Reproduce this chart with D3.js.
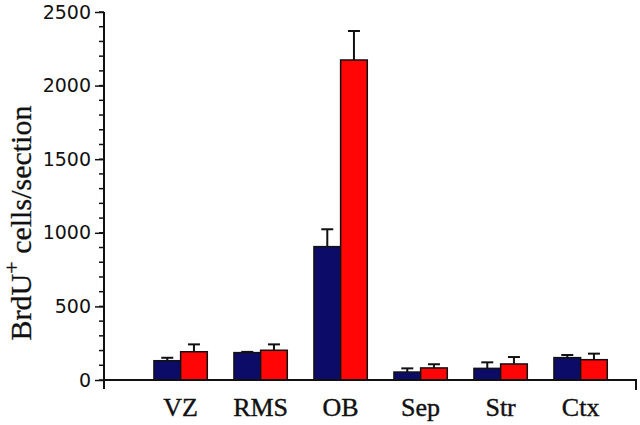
<!DOCTYPE html>
<html>
<head>
<meta charset="utf-8">
<script src="https://cdn.jsdelivr.net/npm/d3@7"></script>
<style>
  html, body { margin: 0; padding: 0; background: #fff; }
</style>
</head>
<body>
<div id="chart"></div>
<script>
// data
const regions = ["VZ", "RMS", "OB", "Sep", "Str", "Ctx"];
const blueMeans = [131, 186, 906, 54, 79, 152];
const blueErrors = [20, 5, 118, 25, 41, 18];
const redMeans = [192, 202, 2174, 82, 109, 138];
const redErrors = [50, 40, 197, 25, 47, 41];
const yTicks = [0, 500, 1000, 1500, 2000, 2500];
const yMinorTicks = d3.range(0, 2501, 100);

const width = 640, height = 425;
const margin = { top: 12, right: 4, bottom: 45, left: 104 };

const svg = d3.select("#chart")
  .append("svg")
  .attr("width", width)
  .attr("height", height)
  .attr("xmlns", "http://www.w3.org/2000/svg");

// scales
const y = d3.scaleLinear()
  .domain([0, 2500])
  .range([height - margin.bottom, margin.top]);

const x = d3.scaleBand()
  .domain(regions)
  .range([margin.left, width - margin.right])
  .paddingInner(1 / 3)
  .paddingOuter(0.4917)
  .align(0.635);

const x1 = d3.scaleBand()
  .domain(["blue", "red"])
  .range([0, x.bandwidth()]);

const colors = { blue: "#0c0c68", red: "#ff0505" };

// rows for bars
const rows = [];
regions.forEach((r, i) => {
  rows.push({ region: r, key: "blue", value: blueMeans[i], err: blueErrors[i] });
  rows.push({ region: r, key: "red", value: redMeans[i], err: redErrors[i] });
});

// error bars (upper only), drawn before bars
const eb = svg.append("g")
  .attr("stroke", "#111")
  .attr("stroke-width", 2);

rows.forEach(d => {
  const cx = x(d.region) + x1(d.key) + x1.bandwidth() / 2;
  eb.append("line")
    .attr("x1", cx).attr("x2", cx)
    .attr("y1", y(d.value)).attr("y2", y(d.value + d.err));
  eb.append("line")
    .attr("x1", cx - 6).attr("x2", cx + 6)
    .attr("y1", y(d.value + d.err)).attr("y2", y(d.value + d.err));
});

// bars
svg.append("g")
  .selectAll("rect")
  .data(rows)
  .join("rect")
  .attr("x", d => x(d.region) + x1(d.key))
  .attr("y", d => y(d.value))
  .attr("width", x1.bandwidth())
  .attr("height", d => y(0) - y(d.value))
  .attr("fill", d => colors[d.key])
  .attr("stroke", "#111")
  .attr("stroke-width", 1.5);

// y axis
const yAxis = svg.append("g")
  .attr("transform", `translate(${margin.left},0)`);

yAxis.selectAll(".minor")
  .data(yMinorTicks)
  .join("line")
  .attr("class", "minor")
  .attr("x1", -5).attr("x2", 0)
  .attr("y1", d => y(d)).attr("y2", d => y(d))
  .attr("stroke", "#111")
  .attr("stroke-width", 1.5);

yAxis.call(d3.axisLeft(y).tickValues(yTicks).tickFormat(d3.format("d"))
    .tickSize(9).tickPadding(4).tickSizeOuter(0))
  .call(g => g.select(".domain").remove())
  .call(g => g.selectAll(".tick line").attr("stroke", "#111").attr("stroke-width", 1.5))
  .call(g => g.selectAll(".tick text")
    .attr("fill", "#111")
    .attr("font-family", "DejaVu Sans, Verdana, sans-serif")
    .attr("font-size", 19));

// axis lines
const axisLines = svg.append("g")
  .attr("stroke", "#111")
  .attr("stroke-width", 2)
  .attr("fill", "none");

axisLines.append("path")
  .attr("d", d3.line()([
    [margin.left, y(2500)],
    [margin.left, y(0) + 9]
  ]));

axisLines.append("path")
  .attr("d", d3.line()([
    [margin.left, y(0)],
    [width - margin.right, y(0)],
    [width - margin.right, y(0) + 10]
  ]));

// x labels
svg.append("g")
  .selectAll("text")
  .data(regions)
  .join("text")
  .attr("x", d => x(d) + x.bandwidth() / 2)
  .attr("y", y(0) + 36)
  .attr("text-anchor", "middle")
  .attr("font-family", "Liberation Serif, Times New Roman, serif")
  .attr("font-size", 26)
  .attr("stroke", "#111")
  .attr("stroke-width", 0.4)
  .attr("fill", "#111")
  .text(d => d);

// y title
const title = svg.append("text")
  .attr("transform", `translate(31,${(105 + 341) / 2}) rotate(-90)`)
  .attr("text-anchor", "middle")
  .attr("font-family", "Liberation Serif, Times New Roman, serif")
  .attr("font-size", 30)
  .attr("stroke", "#111")
  .attr("stroke-width", 0.3)
  .attr("fill", "#111");
title.append("tspan").text("BrdU");
title.append("tspan")
  .attr("font-size", 22)
  .attr("dy", -12)
  .text("+");
title.append("tspan")
  .attr("dy", 12)
  .text(" cells/section");
</script>
</body>
</html>
